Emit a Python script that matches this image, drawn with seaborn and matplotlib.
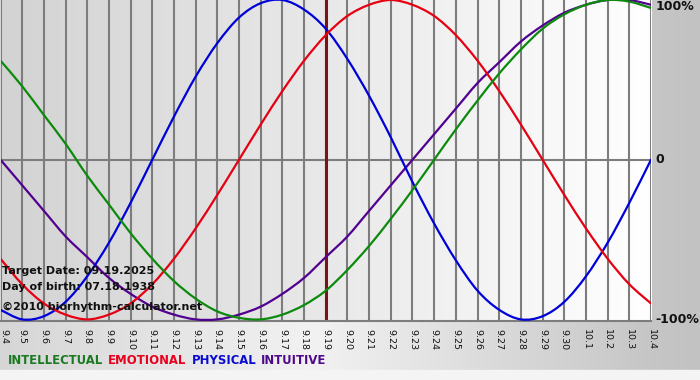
import numpy as np
import pandas as pd
import matplotlib
matplotlib.use("Agg")
import matplotlib.pyplot as plt
import seaborn as sns
from matplotlib.colors import LinearSegmentedColormap
from matplotlib.path import Path
from matplotlib.patches import PathPatch
import matplotlib.transforms as mtransforms

# ---------------- data ----------------
dates = ["9.4", "9.5", "9.6", "9.7", "9.8", "9.9", "9.10", "9.11", "9.12", "9.13",
         "9.14", "9.15", "9.16", "9.17", "9.18", "9.19", "9.20", "9.21", "9.22", "9.23",
         "9.24", "9.25", "9.26", "9.27", "9.28", "9.29", "9.30", "10.1", "10.2", "10.3",
         "10.4"]

physical = [-0.94, -1.00, -0.98, -0.89, -0.73, -0.52, -0.27, 0.00, 0.27, 0.52,
            0.73, 0.89, 0.98, 1.00, 0.94, 0.82, 0.63, 0.40, 0.14, -0.14,
            -0.40, -0.63, -0.82, -0.94, -1.00, -0.98, -0.89, -0.73, -0.52, -0.27,
            0.00]
emotional = [-0.62, -0.78, -0.90, -0.97, -1.00, -0.97, -0.90, -0.78, -0.62, -0.43,
             -0.22, 0.00, 0.22, 0.43, 0.62, 0.78, 0.90, 0.97, 1.00, 0.97,
             0.90, 0.78, 0.62, 0.43, 0.22, 0.00, -0.22, -0.43, -0.62, -0.78,
             -0.90]
intellectual = [0.62, 0.46, 0.28, 0.10, -0.10, -0.28, -0.46, -0.62, -0.76, -0.87,
                -0.95, -0.99, -1.00, -0.97, -0.91, -0.82, -0.69, -0.54, -0.37, -0.19,
                0.00, 0.19, 0.37, 0.54, 0.69, 0.82, 0.91, 0.97, 1.00, 0.99,
                0.95]
intuitive = [0.00, -0.16, -0.32, -0.48, -0.61, -0.74, -0.84, -0.92, -0.97, -1.00,
             -1.00, -0.97, -0.92, -0.84, -0.74, -0.61, -0.48, -0.32, -0.16, 0.00,
             0.16, 0.32, 0.48, 0.61, 0.74, 0.84, 0.92, 0.97, 1.00, 1.00,
             0.97]

series_names = ["INTELLECTUAL", "EMOTIONAL", "PHYSICAL", "INTUITIVE"]
series_colors = ["#0c8a0c", "#e60012", "#0000d8", "#520090"]
legend_colors = ["#1a7a22", "#e8001c", "#0a0ad0", "#4e0a8a"]
y_tick_values = [1.0, 0.0, -1.0]
y_tick_labels = ["100%", "0", "-100%"]
target_date = "9.19"
info_lines = ["Target Date: 09.19.2025", "Day of birth: 07.18.1938",
              "\u00a92010 biorhythm-calculator.net"]

# ---------------- build long-form table ----------------
idx = np.arange(len(dates))
values = {"INTELLECTUAL": intellectual, "EMOTIONAL": emotional,
          "PHYSICAL": physical, "INTUITIVE": intuitive}
frames = [pd.DataFrame({"day": idx, "value": values[n], "cycle": n}) for n in series_names]
df = pd.concat(frames, ignore_index=True)

sns.set_theme(style="white")
plt.rcParams["font.family"] = ["DejaVu Sans"]

W, H = 700, 380
fig = plt.figure(figsize=(7.0, 3.8), dpi=100)

# figure background (gradient)
bg = fig.add_axes([0, 0, 1, 1], zorder=-5)
bg_cmap = LinearSegmentedColormap.from_list(
    "bg", [(0.0, "#d6d6d6"), (0.45, "#f2f2f2"), (0.93, "#c6c6c6"), (1.0, "#c2c2c2")])
grad = np.linspace(0, 1, 256).reshape(1, -1)
bg.imshow(grad, cmap=bg_cmap, aspect="auto", extent=[0, 1, 0, 1])
bg.axhspan(0, 10 / H, color="#f4f4f4", zorder=2)
bg.set_xlim(0, 1)
bg.set_ylim(0, 1)
bg.axis("off")

# plot axes: x 0..651 px, y 0..321 px from top
ax_left = 0.5 / W
ax_right = 651 / W
ax_bottom = (H - 321) / H
ax = fig.add_axes([ax_left, ax_bottom, ax_right - ax_left, 1 - ax_bottom])

plot_cmap = LinearSegmentedColormap.from_list("plot", ["#d3d3d3", "#ffffff"])
ax.imshow(grad, cmap=plot_cmap, aspect="auto",
          extent=[0, len(dates) - 1, -1.01, 1.0], zorder=0)

# grid lines
for i in idx:
    ax.axvline(i, color="#7d7d7d", lw=1.5, zorder=1)
ax.axhline(0, color="#7d7d7d", lw=1.5, zorder=1)

# target date marker
ax.axvline(dates.index(target_date), color="#7a1414", lw=2.2, zorder=2)

# curves: drawn by seaborn, then rendered as smooth curves through the same points
draw_order = ["INTUITIVE", "PHYSICAL", "EMOTIONAL", "INTELLECTUAL"]
palette = dict(zip(series_names, series_colors))


def smooth_path(xy):
    p = np.asarray(xy, dtype=float)
    n = len(p)
    verts = [p[0]]
    codes = [Path.MOVETO]
    for i in range(n - 1):
        pm = p[i - 1] if i > 0 else p[i]
        pp = p[i + 2] if i + 2 < n else p[i + 1]
        c1 = p[i] + (p[i + 1] - pm) / 6.0
        c2 = p[i + 1] - (pp - p[i]) / 6.0
        verts += [c1, c2, p[i + 1]]
        codes += [Path.CURVE4] * 3
    return Path(verts, codes)


for n in draw_order:
    before = len(ax.lines)
    sns.lineplot(data=df[df["cycle"] == n], x="day", y="value", color=palette[n],
                 lw=1.6, ax=ax, legend=False, zorder=3)
    for ln in ax.lines[before:]:
        xy = ln.get_xydata()
        patch = PathPatch(smooth_path(xy), facecolor="none", edgecolor=ln.get_color(),
                          lw=1.6, zorder=3, capstyle="round", joinstyle="round")
        ax.add_patch(patch)
        ln.set_visible(False)

ax.set_xlim(0, len(dates) - 1)
ax.set_ylim(-1.01, 1.0)
ax.set_xlabel("")
ax.set_ylabel("")
ax.set_xticks(idx)
ax.set_xticklabels(dates, rotation=270, fontsize=6.8, color="#111111")
ax.tick_params(axis="x", length=4, width=1.5, color="#7d7d7d", pad=1.5)
ax.set_yticks([])
for s in ["top", "left", "right"]:
    ax.spines[s].set_visible(False)
ax.spines["bottom"].set_color("#7d7d7d")
ax.spines["bottom"].set_linewidth(1.5)

# keep the first date label on the canvas
first = ax.get_xticklabels()[0]
first.set_transform(first.get_transform() +
                    mtransforms.ScaledTranslation(3 / 100, 0, fig.dpi_scale_trans))

# right-hand percentage labels
offsets = {"100%": -5, "0": 0, "-100%": 0}
for v, lab in zip(y_tick_values, y_tick_labels):
    ax.annotate(lab, xy=(1, v), xycoords=("axes fraction", "data"),
                xytext=(3, offsets[lab]), textcoords="offset points",
                ha="left", va="center", fontsize=9, fontweight="bold",
                color="#111111", annotation_clip=False)

# info text
info_y = [271, 287, 307]
for txt, yy in zip(info_lines, info_y):
    fig.text(2 / W, 1 - yy / H, txt, ha="left", va="center", fontsize=8.0,
             fontweight="bold", color="#111111", zorder=10)

# legend line
x = 8 / W
for name, col in zip(series_names, legend_colors):
    t = fig.text(x, 1 - 361 / H, name, ha="left", va="center", fontsize=8.4,
                 fontweight="bold", color=col)
    fig.canvas.draw()
    bb = t.get_window_extent()
    x = (bb.x1 + 5) / W

fig.savefig("out.png", dpi=100)
